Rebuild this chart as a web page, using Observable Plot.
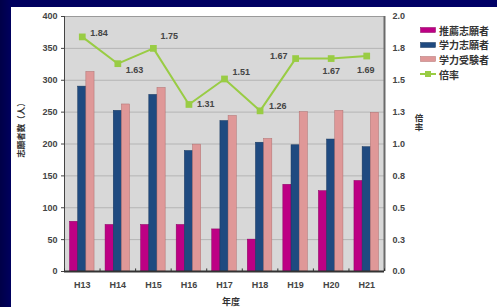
<!DOCTYPE html>
<html><head><meta charset="utf-8">
<script src="https://cdn.jsdelivr.net/npm/d3@7"></script>
<script src="https://cdn.jsdelivr.net/npm/@observablehq/plot@0.6"></script>
<style>
body{margin:0;width:497px;height:307px;overflow:hidden;position:relative;background:linear-gradient(90deg,#000048 0px,#00005e 11px,#000066 100%);font-family:"Liberation Sans",Arial,sans-serif;}
#panel{position:absolute;left:11px;top:7px;width:486px;height:300px;background:#fff;}
.leg{position:absolute;left:420px;font:bold 10px "Noto Sans CJK JP",sans-serif;color:#333;display:flex;align-items:center;height:12px;}
.leg svg{margin-right:3px}
.ttl{position:absolute;font:bold 8.5px "Noto Sans CJK JP",sans-serif;color:#333;white-space:nowrap;}
</style></head>
<body>
<div id="panel"></div>
<div id="legend"></div>
<div class="ttl" style="left:20px;top:128px;transform:translate(-50%,-50%) rotate(-90deg);">志願者数（人）</div>
<div class="ttl" style="left:414px;top:114px;writing-mode:vertical-rl;text-orientation:upright;line-height:10px;">倍率</div>
<div class="ttl" style="left:231px;top:301px;transform:translate(-50%,-50%);font-size:9px;">年度</div>
<script>
const years = ["H13","H14","H15","H16","H17","H18","H19","H20","H21"];
const seriesNames = ["推薦志願者","学力志願者","学力受験者","倍率"];
const suisenShigan = [78,73,73,73,66,50,136,126,142];
const gakuryokuShigan = [290,252,277,189,236,202,198,207,195];
const gakuryokuJuken = [313,262,288,199,244,208,250,252,249];
const ratio = [1.84,1.63,1.75,1.31,1.51,1.26,1.67,1.67,1.69];
const leftTicks = [0,50,100,150,200,250,300,350,400];
const rightTickLabels = ["0.0","0.3","0.5","0.8","1.0","1.3","1.5","1.8","2.0"];
const ratioLabels = ["1.84","1.63","1.75","1.31","1.51","1.26","1.67","1.67","1.69"];

// label placement for ratio annotations: [dx, dy, anchor]
const labelPlacement = [[8,-4,"start"],[8,6,"start"],[7,-12,"start"],[8,0,"start"],[8,-7,"start"],[9,-5,"start"],[-8,-2,"end"],[0,13,"middle"],[-1,14,"middle"]];

const colors = ["#bd0084","#1f4a80","#df9898","#99cc44"];
const strokes = ["#8a0060","#15355c","#b07070"];

const barSeries = [suisenShigan, gakuryokuShigan, gakuryokuJuken];
const bars = [];
barSeries.forEach((vals,k)=>vals.forEach((v,i)=>bars.push({i,k,series:seriesNames[k],value:v})));
const ratioRows = ratio.map((r,i)=>({i,r,label:ratioLabels[i]}));
const bw = 0.23;

const plot = Plot.plot({
  width:486, height:300,
  marginLeft:53, marginRight:113, marginTop:9, marginBottom:36,
  style:{fontFamily:'"Liberation Sans",Arial,sans-serif',fontSize:"9px",fontWeight:"bold",color:"#444",background:"transparent"},
  x:{type:"linear",domain:[-0.5,8.5]},
  y:{domain:[0,400]},
  marks:[
    Plot.frame({fill:"#d8d8d8",stroke:null}),
    Plot.gridY({ticks:leftTicks,stroke:"#b4b4b4",strokeOpacity:1}),
    Plot.rect(bars,{x1:d=>d.i-0.345+d.k*bw,x2:d=>d.i-0.345+(d.k+1)*bw,y1:0,y2:"value",
      fill:d=>colors[d.k],stroke:d=>strokes[d.k],strokeWidth:0.5}),
    Plot.ruleY([400],{stroke:"#9a9a9a"}),
    Plot.ruleX([8.5],{stroke:"#6a6a6a",strokeWidth:2}),
    Plot.ruleX([-0.5],{stroke:"#444"}),
    Plot.ruleY([0],{stroke:"#333",strokeWidth:2}),
    Plot.ruleX(d3.range(10).map(v=>v-0.5),{y1:0,y2:4,stroke:"#333"}),
    Plot.line(ratioRows,{x:"i",y:d=>d.r*200,stroke:colors[3],strokeWidth:2}),
    Plot.dot(ratioRows,{x:"i",y:d=>d.r*200,symbol:"square",r:3.8,fill:colors[3]}),
    ...labelPlacement.map(([dx,dy,anchor],j)=>Plot.text(ratioRows,{filter:d=>d.i===j,x:"i",y:d=>d.r*200,text:"label",dx,dy,textAnchor:anchor,fill:"#444",fontSize:9})),
    Plot.axisY({anchor:"left",ticks:leftTicks,tickSize:3,tickPadding:4,label:null,fill:"#444",stroke:"#444"}),
    Plot.axisY({anchor:"right",ticks:leftTicks,tickFormat:(d)=>rightTickLabels[leftTicks.indexOf(d)],tickSize:0,tickPadding:8,label:null,fill:"#444"}),
    Plot.axisX({ticks:d3.range(9),tickFormat:i=>years[i],tickSize:0,tickPadding:10,label:null,fill:"#444"})
  ]
});
document.getElementById("panel").appendChild(plot);

const legend = document.getElementById("legend");
const rowsY = [30,44.7,59.3,74];
seriesNames.forEach((name,k)=>{
  const div = document.createElement("div");
  div.className="leg";
  div.style.top = (rowsY[k]-6)+"px";
  const sw = k<3
    ? `<svg width="16" height="6"><rect x="0.5" y="0.5" width="15" height="5" fill="${colors[k]}" stroke="${strokes[k]}" stroke-width="0.5"/></svg>`
    : `<svg width="16" height="8"><line x1="0" y1="4" x2="16" y2="4" stroke="${colors[3]}" stroke-width="2"/><rect x="5" y="1" width="6" height="6" fill="${colors[3]}"/></svg>`;
  div.innerHTML = sw + `<span>${name}</span>`;
  legend.appendChild(div);
});
</script>
</body></html>
